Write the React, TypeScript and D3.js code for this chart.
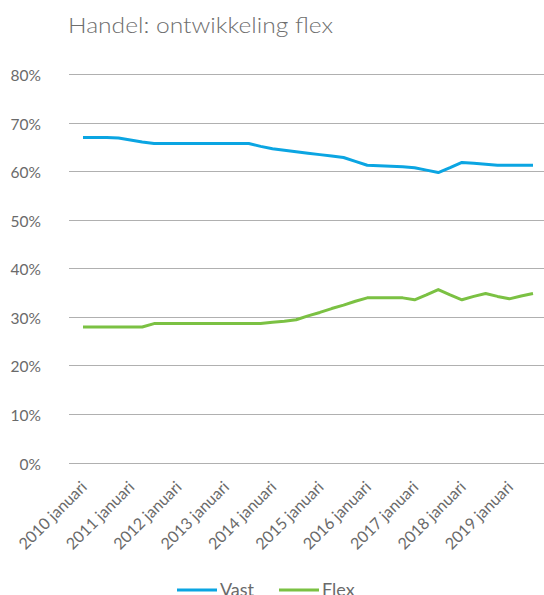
import React from "react";
import * as d3 from "d3";

const TITLE = "Handel: ontwikkeling flex";
const YEARS = [2010, 2011, 2012, 2013, 2014, 2015, 2016, 2017, 2018, 2019];
const MONTHS = ["januari", "april", "juli", "oktober"];
// quarterly periods 2010 januari .. 2019 juli
const periods: string[] = YEARS.flatMap((y) => MONTHS.map((m) => `${y} ${m}`)).slice(0, 39);
const tickLabels = [
  "2010 januari", "2011 januari", "2012 januari", "2013 januari", "2014 januari",
  "2015 januari", "2016 januari", "2017 januari", "2018 januari", "2019 januari",
];
const yTicks = [0, 0.1, 0.2, 0.3, 0.4, 0.5, 0.6, 0.7, 0.8];

const vast = [
  0.669, 0.669, 0.669, 0.668, 0.664, 0.660, 0.657, 0.657, 0.657, 0.657,
  0.657, 0.657, 0.657, 0.657, 0.657, 0.651, 0.646, 0.643, 0.640, 0.637,
  0.634, 0.631, 0.628, 0.620, 0.612, 0.611, 0.610, 0.609, 0.607, 0.602,
  0.597, 0.607, 0.618, 0.616, 0.614, 0.612, 0.612, 0.612, 0.612,
];
const flex = [
  0.279, 0.279, 0.279, 0.279, 0.279, 0.279, 0.286, 0.286, 0.286, 0.286,
  0.286, 0.286, 0.286, 0.286, 0.286, 0.286, 0.289, 0.291, 0.294, 0.302,
  0.309, 0.317, 0.324, 0.332, 0.339, 0.339, 0.339, 0.339, 0.335, 0.345,
  0.356, 0.345, 0.335, 0.342, 0.348, 0.342, 0.337, 0.343, 0.348,
];

const series = [
  { name: "Vast", values: vast, color: "#0ba5e2" },
  { name: "Flex", values: flex, color: "#7bc143" },
];

const W = 544;
const H = 595;
const plotLeft = 69;
const plotRight = 544;
const FONT = "Lato, 'Noto Sans', sans-serif";

export default function App() {
  const x = d3.scalePoint<string>().domain(periods).range([83, 533]);
  const y = d3.scaleLinear().domain([0, 0.8]).range([462.5, 74]);
  const line = d3
    .line<number>()
    .x((_, i) => x(periods[i]) as number)
    .y((d) => y(d));
  const fmt = d3.format(".0%");

  return (
    <svg
      width={W}
      height={H}
      style={{ position: "absolute", left: 0, top: 0, background: "#fff" }}
      fontFamily={FONT}
    >
      <text
        x={68}
        y={33}
        fontSize={21}
        fontWeight={300}
        fill="#6e6e6e"
        textLength={265}
        lengthAdjust="spacingAndGlyphs"
      >
        {TITLE}
      </text>
      {yTicks.map((t) => {
        const yy = Math.round(y(t)) + 0.5;
        return (
          <g key={t}>
            <line x1={plotLeft} x2={plotRight} y1={yy} y2={yy} stroke="#b0b0b0" strokeWidth={1} />
            <text
              x={41}
              y={yy}
              textAnchor="end"
              dominantBaseline="central"
              fontSize={15.5}
              fill="#6a6a6a"
            >
              {fmt(t)}
            </text>
          </g>
        );
      })}
      {series.map((s) => (
        <path
          key={s.name}
          d={line(s.values) as string}
          fill="none"
          stroke={s.color}
          strokeWidth={3}
          strokeLinejoin="round"
        />
      ))}
      {tickLabels.map((lab) => {
        const xx = x(lab) as number;
        return (
          <text
            key={lab}
            transform={`translate(${xx + 5},${488}) rotate(-45)`}
            textAnchor="end"
            fontSize={16}
            fill="#6a6a6a"
          >
            {lab}
          </text>
        );
      })}
      {series.map((s, i) => {
        const lx = 177 + i * 102;
        return (
          <g key={s.name}>
            <line x1={lx} x2={lx + 40} y1={590} y2={590} stroke={s.color} strokeWidth={3} />
            <text x={lx + 43} y={589} dominantBaseline="central" fontSize={18} fill="#6a6a6a">
              {s.name}
            </text>
          </g>
        );
      })}
    </svg>
  );
}
